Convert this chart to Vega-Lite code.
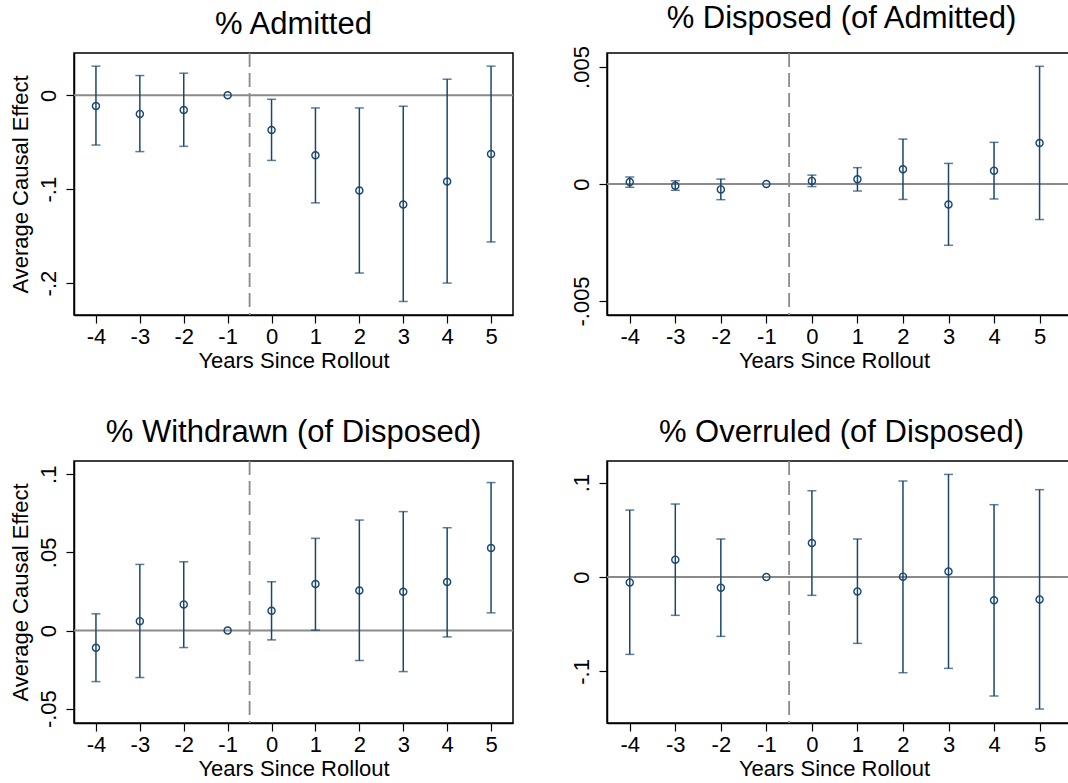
{
  "$schema": "https://vega.github.io/schema/vega-lite/v6.json",
  "padding": {"left": 8, "top": 1, "right": 0, "bottom": 0},
  "background": "white",
  "columns": 2,
  "spacing": {"row": 44, "column": 54},
  "config": {
    "font": "Liberation Sans",
    "view": {"stroke": "black", "strokeWidth": 1.5},
    "axis": {"grid": false, "domainColor": "black", "domainWidth": 1.5, "tickColor": "black", "tickWidth": 1.2, "tickSize": 8, "labelColor": "black", "titleColor": "black", "labelFontSize": 22, "titleFontSize": 22, "titleFontWeight": "normal", "labelFont": "Liberation Sans", "titleFont": "Liberation Sans", "labelPadding": 3, "titlePadding": 3},
    "axisY": {"labelPadding": 6, "titlePadding": 5},
    "title": {"fontSize": 31, "fontWeight": "normal", "font": "Liberation Sans", "color": "black", "offset": 11, "anchor": "middle"}
  },
  "datasets": {
    "admitted": [
      {"year": -4, "est": -0.0114, "lo": -0.053, "hi": 0.031},
      {"year": -3, "est": -0.0199, "lo": -0.060, "hi": 0.021},
      {"year": -2, "est": -0.0157, "lo": -0.0544, "hi": 0.0235},
      {"year": -1, "est": 0, "lo": null, "hi": null},
      {"year": 0, "est": -0.037, "lo": -0.0694, "hi": -0.0043},
      {"year": 1, "est": -0.064, "lo": -0.1146, "hi": -0.0135},
      {"year": 2, "est": -0.1014, "lo": -0.1893, "hi": -0.0135},
      {"year": 3, "est": -0.1164, "lo": -0.2196, "hi": -0.0117},
      {"year": 4, "est": -0.0918, "lo": -0.2, "hi": 0.0171},
      {"year": 5, "est": -0.0626, "lo": -0.1562, "hi": 0.031}
    ],
    "disposed": [
      {"year": -4, "est": 0.000085, "lo": -0.00014, "hi": 0.0003},
      {"year": -3, "est": -0.00007, "lo": -0.00027, "hi": 0.00014},
      {"year": -2, "est": -0.00023, "lo": -0.00067, "hi": 0.00021},
      {"year": -1, "est": 0, "lo": null, "hi": null},
      {"year": 0, "est": 0.00013, "lo": -0.00011, "hi": 0.00038},
      {"year": 1, "est": 0.0002, "lo": -0.0003, "hi": 0.0007},
      {"year": 2, "est": 0.00063, "lo": -0.00066, "hi": 0.00192},
      {"year": 3, "est": -0.00088, "lo": -0.00262, "hi": 0.00088},
      {"year": 4, "est": 0.00057, "lo": -0.00064, "hi": 0.00178},
      {"year": 5, "est": 0.00175, "lo": -0.00152, "hi": 0.00503}
    ],
    "withdrawn": [
      {"year": -4, "est": -0.0111, "lo": -0.0327, "hi": 0.0107},
      {"year": -3, "est": 0.006, "lo": -0.0301, "hi": 0.0423},
      {"year": -2, "est": 0.0167, "lo": -0.0109, "hi": 0.044},
      {"year": -1, "est": 0, "lo": null, "hi": null},
      {"year": 0, "est": 0.0126, "lo": -0.006, "hi": 0.0312},
      {"year": 1, "est": 0.0297, "lo": 0.0002, "hi": 0.059},
      {"year": 2, "est": 0.0256, "lo": -0.0192, "hi": 0.0707},
      {"year": 3, "est": 0.0248, "lo": -0.0263, "hi": 0.0761},
      {"year": 4, "est": 0.031, "lo": -0.0041, "hi": 0.0658},
      {"year": 5, "est": 0.0528, "lo": 0.0113, "hi": 0.0947}
    ],
    "overruled": [
      {"year": -4, "est": -0.0057, "lo": -0.082, "hi": 0.071},
      {"year": -3, "est": 0.0184, "lo": -0.0406, "hi": 0.0774},
      {"year": -2, "est": -0.0113, "lo": -0.0629, "hi": 0.0403},
      {"year": -1, "est": 0, "lo": null, "hi": null},
      {"year": 0, "est": 0.036, "lo": -0.0194, "hi": 0.0915},
      {"year": 1, "est": -0.0152, "lo": -0.0703, "hi": 0.0403},
      {"year": 2, "est": 0.0004, "lo": -0.1014, "hi": 0.1018},
      {"year": 3, "est": 0.006, "lo": -0.0968, "hi": 0.1088},
      {"year": 4, "est": -0.0247, "lo": -0.1261, "hi": 0.0767},
      {"year": 5, "est": -0.0237, "lo": -0.1399, "hi": 0.0926}
    ],
    "zero": [{"v": 0}],
    "cut": [{"v": -0.5}]
  },
  "concat": [
    {
      "title": "% Admitted",
      "width": 439, "height": 262,
      "layer": [
        {"data": {"name": "zero"}, "mark": {"type": "rule", "color": "#8a8a8a", "strokeWidth": 2},
         "encoding": {"y": {"field": "v", "type": "quantitative", "scale": {"domain": [-0.234, 0.045], "nice": false, "zero": false}, "title": "Average Causal Effect", "axis": {"values": [-0.2, -0.1, 0], "labelAngle": 270, "labelExpr": "replace(toString(datum.value), '0.', '.')"}}}},
        {"data": {"name": "cut"}, "mark": {"type": "rule", "color": "#8a8a8a", "strokeWidth": 1.8, "strokeDash": [14, 6]},
         "encoding": {"x": {"field": "v", "type": "quantitative", "scale": {"domain": [-4.5, 5.5], "nice": false, "zero": false}, "title": "Years Since Rollout", "axis": {"values": [-4, -3, -2, -1, 0, 1, 2, 3, 4, 5], "labelExpr": "toString(datum.value)"}}}},
        {"data": {"name": "admitted"}, "transform": [{"filter": "isValid(datum.lo)"}],
         "mark": {"type": "errorbar", "color": "#1a476f", "thickness": 1.5, "ticks": {"size": 9, "thickness": 1.5, "color": "#1a476f"}},
         "encoding": {"x": {"field": "year", "type": "quantitative", "title": "Years Since Rollout"}, "y": {"field": "lo", "type": "quantitative", "title": "Average Causal Effect"}, "y2": {"field": "hi"}}},
        {"data": {"name": "admitted"}, "mark": {"type": "point", "shape": "circle", "filled": false, "color": "#1a476f", "size": 50, "strokeWidth": 1.4, "opacity": 1},
         "encoding": {"x": {"field": "year", "type": "quantitative", "title": "Years Since Rollout"}, "y": {"field": "est", "type": "quantitative", "title": "Average Causal Effect"}}}
      ]
    },
    {
      "title": "% Disposed (of Admitted)",
      "width": 469, "height": 262,
      "layer": [
        {"data": {"name": "zero"}, "mark": {"type": "rule", "color": "#8a8a8a", "strokeWidth": 2},
         "encoding": {"y": {"field": "v", "type": "quantitative", "scale": {"domain": [-0.0056, 0.0056], "nice": false, "zero": false}, "title": null, "axis": {"values": [-0.005, 0, 0.005], "labelAngle": 270, "labelExpr": "replace(toString(datum.value), '0.', '.')"}}}},
        {"data": {"name": "cut"}, "mark": {"type": "rule", "color": "#8a8a8a", "strokeWidth": 1.8, "strokeDash": [14, 6]},
         "encoding": {"x": {"field": "v", "type": "quantitative", "scale": {"domain": [-4.5, 5.8], "nice": false, "zero": false}, "title": "Years Since Rollout", "axis": {"values": [-4, -3, -2, -1, 0, 1, 2, 3, 4, 5], "labelExpr": "toString(datum.value)", "titleX": 227}}}},
        {"data": {"name": "disposed"}, "transform": [{"filter": "isValid(datum.lo)"}],
         "mark": {"type": "errorbar", "color": "#1a476f", "thickness": 1.5, "ticks": {"size": 9, "thickness": 1.5, "color": "#1a476f"}},
         "encoding": {"x": {"field": "year", "type": "quantitative", "title": "Years Since Rollout"}, "y": {"field": "lo", "type": "quantitative", "title": null}, "y2": {"field": "hi"}}},
        {"data": {"name": "disposed"}, "mark": {"type": "point", "shape": "circle", "filled": false, "color": "#1a476f", "size": 50, "strokeWidth": 1.4, "opacity": 1},
         "encoding": {"x": {"field": "year", "type": "quantitative", "title": "Years Since Rollout"}, "y": {"field": "est", "type": "quantitative", "title": null}}}
      ]
    },
    {
      "title": "% Withdrawn (of Disposed)",
      "width": 439, "height": 262,
      "layer": [
        {"data": {"name": "zero"}, "mark": {"type": "rule", "color": "#8a8a8a", "strokeWidth": 2},
         "encoding": {"y": {"field": "v", "type": "quantitative", "scale": {"domain": [-0.0592, 0.1085], "nice": false, "zero": false}, "title": "Average Causal Effect", "axis": {"values": [-0.05, 0, 0.05, 0.1], "labelAngle": 270, "labelExpr": "replace(toString(datum.value), '0.', '.')"}}}},
        {"data": {"name": "cut"}, "mark": {"type": "rule", "color": "#8a8a8a", "strokeWidth": 1.8, "strokeDash": [14, 6]},
         "encoding": {"x": {"field": "v", "type": "quantitative", "scale": {"domain": [-4.5, 5.5], "nice": false, "zero": false}, "title": "Years Since Rollout", "axis": {"values": [-4, -3, -2, -1, 0, 1, 2, 3, 4, 5], "labelExpr": "toString(datum.value)"}}}},
        {"data": {"name": "withdrawn"}, "transform": [{"filter": "isValid(datum.lo)"}],
         "mark": {"type": "errorbar", "color": "#1a476f", "thickness": 1.5, "ticks": {"size": 9, "thickness": 1.5, "color": "#1a476f"}},
         "encoding": {"x": {"field": "year", "type": "quantitative", "title": "Years Since Rollout"}, "y": {"field": "lo", "type": "quantitative", "title": "Average Causal Effect"}, "y2": {"field": "hi"}}},
        {"data": {"name": "withdrawn"}, "mark": {"type": "point", "shape": "circle", "filled": false, "color": "#1a476f", "size": 50, "strokeWidth": 1.4, "opacity": 1},
         "encoding": {"x": {"field": "year", "type": "quantitative", "title": "Years Since Rollout"}, "y": {"field": "est", "type": "quantitative", "title": "Average Causal Effect"}}}
      ]
    },
    {
      "title": "% Overruled (of Disposed)",
      "width": 469, "height": 262,
      "layer": [
        {"data": {"name": "zero"}, "mark": {"type": "rule", "color": "#8a8a8a", "strokeWidth": 2},
         "encoding": {"y": {"field": "v", "type": "quantitative", "scale": {"domain": [-0.1547, 0.123], "nice": false, "zero": false}, "title": null, "axis": {"values": [-0.1, 0, 0.1], "labelAngle": 270, "labelExpr": "replace(toString(datum.value), '0.', '.')"}}}},
        {"data": {"name": "cut"}, "mark": {"type": "rule", "color": "#8a8a8a", "strokeWidth": 1.8, "strokeDash": [14, 6]},
         "encoding": {"x": {"field": "v", "type": "quantitative", "scale": {"domain": [-4.5, 5.8], "nice": false, "zero": false}, "title": "Years Since Rollout", "axis": {"values": [-4, -3, -2, -1, 0, 1, 2, 3, 4, 5], "labelExpr": "toString(datum.value)", "titleX": 227}}}},
        {"data": {"name": "overruled"}, "transform": [{"filter": "isValid(datum.lo)"}],
         "mark": {"type": "errorbar", "color": "#1a476f", "thickness": 1.5, "ticks": {"size": 9, "thickness": 1.5, "color": "#1a476f"}},
         "encoding": {"x": {"field": "year", "type": "quantitative", "title": "Years Since Rollout"}, "y": {"field": "lo", "type": "quantitative", "title": null}, "y2": {"field": "hi"}}},
        {"data": {"name": "overruled"}, "mark": {"type": "point", "shape": "circle", "filled": false, "color": "#1a476f", "size": 50, "strokeWidth": 1.4, "opacity": 1},
         "encoding": {"x": {"field": "year", "type": "quantitative", "title": "Years Since Rollout"}, "y": {"field": "est", "type": "quantitative", "title": null}}}
      ]
    }
  ]
}
